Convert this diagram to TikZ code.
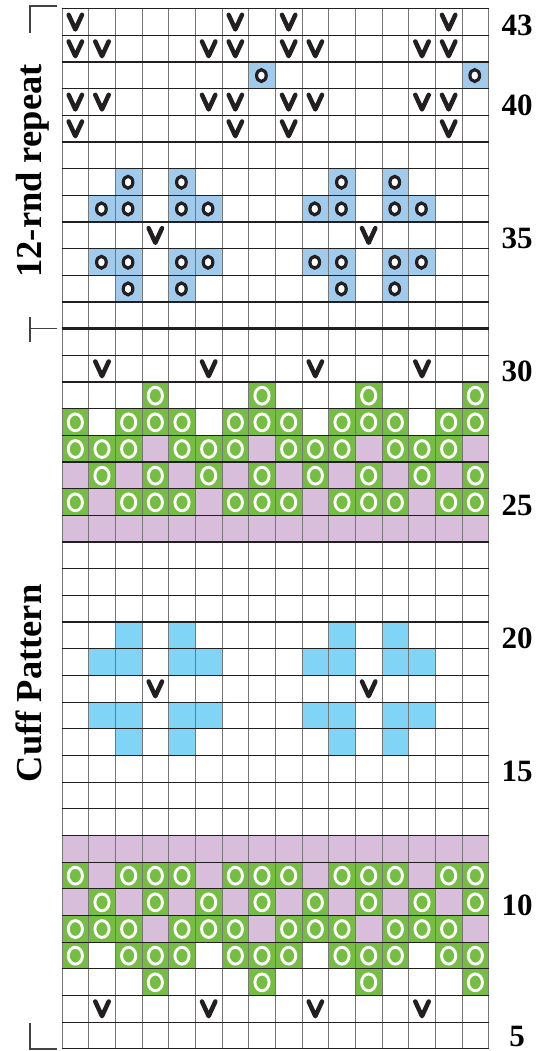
\documentclass[tikz,border=0pt]{standalone}
\usepackage{fontspec}
\setmainfont{Liberation Serif}
\definecolor{kgreen}{RGB}{118,189,67}
\definecolor{klilac}{RGB}{216,190,219}
\definecolor{kblueo}{RGB}{160,203,236}
\definecolor{kblue}{RGB}{128,212,246}
\definecolor{kink}{RGB}{35,31,32}
\definecolor{kgrid}{RGB}{118,118,118}
% cell (col,row) fill
\newcommand\mycell[3]{\fill[#1] ({62+(#2-1)*26.667},{8.7+(43-#3)*26.667}) rectangle ++(26.667,26.667);}
\newcommand\myV[2]{\draw[vmark] ({75.333+(#1-1)*26.667-6.7},{22.033+(43-#2)*26.667-7.2}) -- ++(6.7,14.6) -- ++(6.7,-14.6);}
\newcommand\myBo[2]{\draw[bluering] ({75.333+(#1-1)*26.667-0.6},{22.033+(43-#2)*26.667+0.2}) ellipse [x radius=4.8pt,y radius=5.9pt];}
\newcommand\myGo[2]{\draw[greenring] ({75.333+(#1-1)*26.667},{22.033+(43-#2)*26.667+0.3}) ellipse [x radius=7.1pt,y radius=8.4pt];}
\tikzset{
  vmark/.style={kink,line width=4.5pt,line join=round,line cap=round},
  bluering/.style={kink,line width=3.2pt,fill=white},
  greenring/.style={white,line width=2.9pt},
  vline/.style={kgrid,line width=0.9pt},
  hline/.style={kink,line width=1.1pt},
  bracketline/.style={kink!85,line width=1.1pt},
  rownum/.style={font=\fontsize{31}{33}\selectfont\bfseries,inner sep=0pt},
  sidelabel/.style={font=\fontsize{36.5}{38}\selectfont\bfseries,inner sep=0pt,rotate=90,anchor=base}
}
\begin{document}
\begin{tikzpicture}[x=1pt,y=-1pt]
\useasboundingbox (0,0) rectangle (547,1051);
\fill[white] (0,0) rectangle (547,1051);
% ---- cell fills ----
% light blue (repeat)
\foreach \c in {8,16} {\mycell{kblueo}{\c}{41}}
\foreach \r in {37,33} {\foreach \c in {3,5,11,13} {\mycell{kblueo}{\c}{\r}}}
\foreach \r in {36,34} {\foreach \c in {2,3,5,6,10,11,13,14} {\mycell{kblueo}{\c}{\r}}}
% solid blue (cuff)
\foreach \r in {20,16} {\foreach \c in {3,5,11,13} {\mycell{kblue}{\c}{\r}}}
\foreach \r in {19,17} {\foreach \c in {2,3,5,6,10,11,13,14} {\mycell{kblue}{\c}{\r}}}
% lilac
\foreach \r in {27,9} {\foreach \c in {4,8,12,16} {\mycell{klilac}{\c}{\r}}}
\foreach \r in {26,10} {\foreach \c in {1,3,...,15} {\mycell{klilac}{\c}{\r}}}
\foreach \r in {25,11} {\foreach \c in {2,6,10,14} {\mycell{klilac}{\c}{\r}}}
\foreach \r in {24,12} {\foreach \c in {1,...,16} {\mycell{klilac}{\c}{\r}}}
% green
\foreach \r in {29,7} {\foreach \c in {4,8,12,16} {\mycell{kgreen}{\c}{\r}}}
\foreach \r in {28,8,25,11} {\foreach \c in {1,3,4,5,7,8,9,11,12,13,15,16} {\mycell{kgreen}{\c}{\r}}}
\foreach \r in {27,9} {\foreach \c in {1,2,3,5,6,7,9,10,11,13,14,15} {\mycell{kgreen}{\c}{\r}}}
\foreach \r in {26,10} {\foreach \c in {2,4,...,16} {\mycell{kgreen}{\c}{\r}}}
% ---- grid ----
\foreach \k in {0,...,16} {\draw[vline] ({62+\k*26.667},8.7) -- ({62+\k*26.667},1049);}
\foreach \k in {0,...,39} {\draw[hline] (61.5,{8.7+\k*26.667}) -- (489.2,{8.7+\k*26.667});}
\draw[kink,line width=2.6pt] (61.5,328.7) -- (489.2,328.7);
% ---- symbols ----
\foreach \r in {29,7} {\foreach \c in {4,8,12,16} {\myGo{\c}{\r}}}
\foreach \r in {28,8,25,11} {\foreach \c in {1,3,4,5,7,8,9,11,12,13,15,16} {\myGo{\c}{\r}}}
\foreach \r in {27,9} {\foreach \c in {1,2,3,5,6,7,9,10,11,13,14,15} {\myGo{\c}{\r}}}
\foreach \r in {26,10} {\foreach \c in {2,4,...,16} {\myGo{\c}{\r}}}
\foreach \c in {8,16} {\myBo{\c}{41}}
\foreach \r in {37,33} {\foreach \c in {3,5,11,13} {\myBo{\c}{\r}}}
\foreach \r in {36,34} {\foreach \c in {2,3,5,6,10,11,13,14} {\myBo{\c}{\r}}}
\foreach \r in {43,39} {\foreach \c in {1,7,9,15} {\myV{\c}{\r}}}
\foreach \r in {42,40} {\foreach \c in {1,2,6,7,9,10,14,15} {\myV{\c}{\r}}}
\foreach \r in {35,18} {\foreach \c in {4,12} {\myV{\c}{\r}}}
\foreach \r in {30,6} {\foreach \c in {2,6,10,14} {\myV{\c}{\r}}}
% ---- row numbers ----
\foreach \r in {43,40,35,30,25,20,15,10} {
  \node[rownum] (lab\r) at (517,{22.033+(43-\r)*26.667+3}) {\r};
}
\node[rownum] (lab5) at (517,1036) {5};
% ---- side labels and brackets ----
\node[sidelabel] (repeatlabel) at (41.5,171) {12-rnd repeat};
\node[sidelabel] (cufflabel) at (41.5,683.5) {Cuff Pattern};
\draw[bracketline] (57,6) -- (30,6) -- (30,33);
\draw[bracketline] (30,317) -- (30,342);
\draw[bracketline] (30,328.7) -- (57,328.7);
\draw[bracketline] (30,1023) -- (30,1049) -- (57,1049);
\end{tikzpicture}
\end{document}
